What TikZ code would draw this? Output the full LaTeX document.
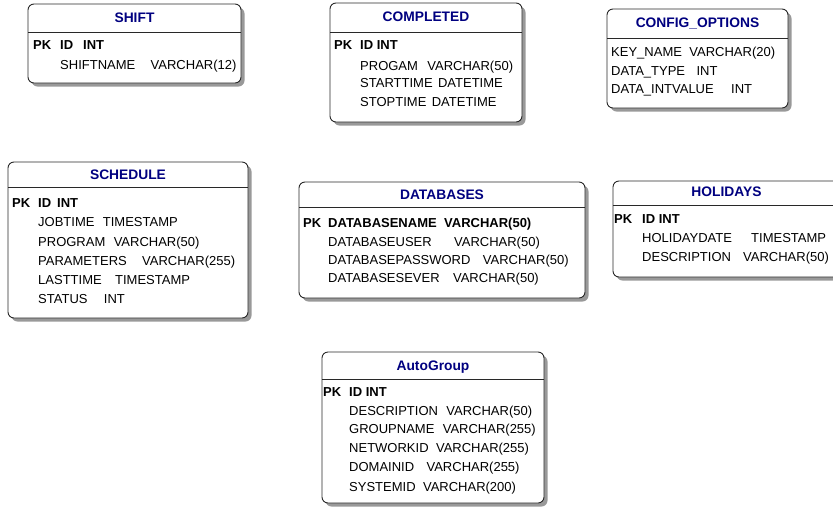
\documentclass[tikz,border=0pt]{standalone}
\usepackage{fontspec}
\setmainfont{Liberation Sans}
\usetikzlibrary{shadows}
\definecolor{navy}{RGB}{0,0,128}
\definecolor{edge}{RGB}{40,40,40}
\tikzset{
  tbox/.style={draw=edge, line width=0.9pt, rounded corners=6pt, fill=white,
    inner sep=0pt, outer sep=0pt, anchor=north west,
    drop shadow={shadow xshift=3.5pt, shadow yshift=-3.5pt, fill=black!40, opacity=1}},
  hsep/.style={draw=edge, line width=0.9pt},
  ttl/.style={font=\fontsize{13.8}{16}\selectfont\bfseries, text=navy, inner sep=0pt, anchor=base},
  fld/.style={font=\fontsize{13}{15}\selectfont, inner sep=0pt, anchor=base west},
  pkf/.style={font=\fontsize{13}{15}\selectfont\bfseries, inner sep=0pt, anchor=base west}
}
\begin{document}
\begin{tikzpicture}[x=1pt,y=-1pt]
\useasboundingbox (0,0) rectangle (833,507);
\clip (0,0) rectangle (833,507);

% SHIFT
\node[tbox, minimum width=213pt, minimum height=79pt] (shift) at (28,4) {};
\draw[hsep] (shift.west |- 0,32) -- (shift.east |- 0,32);
\node[ttl] (shift-t) at (134.5,22.8) {SHIFT};
\node[pkf] (shift-pk) at (33,49.6) {PK};
\node[pkf] (shift-id) at (60,49.6) {ID};
\node[pkf] (shift-idt) at (83,49.6) {INT};
\node[fld] (shift-r1n) at (60,69.6) {SHIFTNAME};
\node[fld] (shift-r1t) at ([xshift=15pt]shift-r1n.base east) {VARCHAR(12)};

% COMPLETED
\node[tbox, minimum width=192pt, minimum height=119pt] (comp) at (330,3) {};
\draw[hsep] (comp.west |- 0,32) -- (comp.east |- 0,32);
\node[ttl] (comp-t) at (426,21.8) {COMPLETED};
\node[pkf] (comp-pk) at (334,49.6) {PK};
\node[pkf] (comp-id) at (360,49.6) {ID INT};
\node[fld] (comp-r1n) at (360,70.3) {PROGAM};
\node[fld] (comp-r1t) at ([xshift=9pt]comp-r1n.base east) {VARCHAR(50)};
\node[fld] (comp-r2n) at (360,87.9) {STARTTIME};
\node[fld] (comp-r2t) at ([xshift=5pt]comp-r2n.base east) {DATETIME};
\node[fld] (comp-r3n) at (360,106.9) {STOPTIME};
\node[fld] (comp-r3t) at ([xshift=5pt]comp-r3n.base east) {DATETIME};

% CONFIG_OPTIONS
\node[tbox, minimum width=181pt, minimum height=99pt] (conf) at (607,9) {};
\draw[hsep] (conf.west |- 0,38) -- (conf.east |- 0,38);
\node[ttl] (conf-t) at (697.5,27.8) {CONFIG\_OPTIONS};
\node[fld] (conf-r1n) at (611,56.6) {KEY\_NAME};
\node[fld] (conf-r1t) at ([xshift=7pt]conf-r1n.base east) {VARCHAR(20)};
\node[fld] (conf-r2n) at (611,75.6) {DATA\_TYPE};
\node[fld] (conf-r2t) at ([xshift=11pt]conf-r2n.base east) {INT};
\node[fld] (conf-r3n) at (611,93.6) {DATA\_INTVALUE};
\node[fld] (conf-r3t) at ([xshift=17pt]conf-r3n.base east) {INT};

% SCHEDULE
\node[tbox, minimum width=240pt, minimum height=156pt] (sched) at (8,162) {};
\draw[hsep] (sched.west |- 0,187) -- (sched.east |- 0,187);
\node[ttl] (sched-t) at (128,179.8) {SCHEDULE};
\node[pkf] (sched-pk) at (12,207.3) {PK};
\node[pkf] (sched-id) at (38,207.3) {ID};
\node[pkf] (sched-idt) at (57,207.3) {INT};
\node[fld] (sched-r1n) at (38,226.3) {JOBTIME};
\node[fld] (sched-r1t) at ([xshift=8pt]sched-r1n.base east) {TIMESTAMP};
\node[fld] (sched-r2n) at (38,246.3) {PROGRAM};
\node[fld] (sched-r2t) at ([xshift=8pt]sched-r2n.base east) {VARCHAR(50)};
\node[fld] (sched-r3n) at (38,265.6) {PARAMETERS};
\node[fld] (sched-r3t) at ([xshift=15pt]sched-r3n.base east) {VARCHAR(255)};
\node[fld] (sched-r4n) at (38,284.6) {LASTTIME};
\node[fld] (sched-r4t) at ([xshift=13pt]sched-r4n.base east) {TIMESTAMP};
\node[fld] (sched-r5n) at (38,303.6) {STATUS};
\node[fld] (sched-r5t) at ([xshift=16pt]sched-r5n.base east) {INT};

% DATABASES
\node[tbox, minimum width=286pt, minimum height=116pt] (db) at (299,182) {};
\draw[hsep] (db.west |- 0,207) -- (db.east |- 0,207);
\node[ttl] (db-t) at (442,199.8) {DATABASES};
\node[pkf] (db-pk) at (303,227.9) {PK};
\node[pkf] (db-id) at (328,227.9) {DATABASENAME};
\node[pkf] (db-idt) at ([xshift=7pt]db-id.base east) {VARCHAR(50)};
\node[fld] (db-r1n) at (328,246.3) {DATABASEUSER};
\node[fld] (db-r1t) at ([xshift=22pt]db-r1n.base east) {VARCHAR(50)};
\node[fld] (db-r2n) at (328,264.6) {DATABASEPASSWORD};
\node[fld] (db-r2t) at ([xshift=12pt]db-r2n.base east) {VARCHAR(50)};
\node[fld] (db-r3n) at (328,282.9) {DATABASESEVER};
\node[fld] (db-r3t) at ([xshift=13pt]db-r3n.base east) {VARCHAR(50)};

% HOLIDAYS
\node[tbox, minimum width=227pt, minimum height=96pt] (hol) at (613,181) {};
\draw[hsep] (hol.west |- 0,205) -- (hol.east |- 0,205);
\node[ttl] (hol-t) at (726.5,196.8) {HOLIDAYS};
\node[pkf] (hol-pk) at (614,223.9) {PK};
\node[pkf] (hol-id) at (642,223.9) {ID INT};
\node[fld] (hol-r1n) at (642,242.9) {HOLIDAYDATE};
\node[fld] (hol-r1t) at (751,242.9) {TIMESTAMP};
\node[fld] (hol-r2n) at (642,261.9) {DESCRIPTION};
\node[fld] (hol-r2t) at (743,261.9) {VARCHAR(50)};

% AutoGroup
\node[tbox, minimum width=222pt, minimum height=151pt] (ag) at (322,352) {};
\draw[hsep] (ag.west |- 0,379) -- (ag.east |- 0,379);
\node[ttl] (ag-t) at (433,370.8) {AutoGroup};
\node[pkf] (ag-pk) at (323,396.3) {PK};
\node[pkf] (ag-id) at (349,396.3) {ID INT};
\node[fld] (ag-r1n) at (349,415.3) {DESCRIPTION};
\node[fld] (ag-r1t) at ([xshift=8pt]ag-r1n.base east) {VARCHAR(50)};
\node[fld] (ag-r2n) at (349,433.9) {GROUPNAME};
\node[fld] (ag-r2t) at ([xshift=8pt]ag-r2n.base east) {VARCHAR(255)};
\node[fld] (ag-r3n) at (349,452.9) {NETWORKID};
\node[fld] (ag-r3t) at ([xshift=7pt]ag-r3n.base east) {VARCHAR(255)};
\node[fld] (ag-r4n) at (349,471.9) {DOMAINID};
\node[fld] (ag-r4t) at ([xshift=12pt]ag-r4n.base east) {VARCHAR(255)};
\node[fld] (ag-r5n) at (349,491.3) {SYSTEMID};
\node[fld] (ag-r5t) at ([xshift=7pt]ag-r5n.base east) {VARCHAR(200)};
\end{tikzpicture}
\end{document}
